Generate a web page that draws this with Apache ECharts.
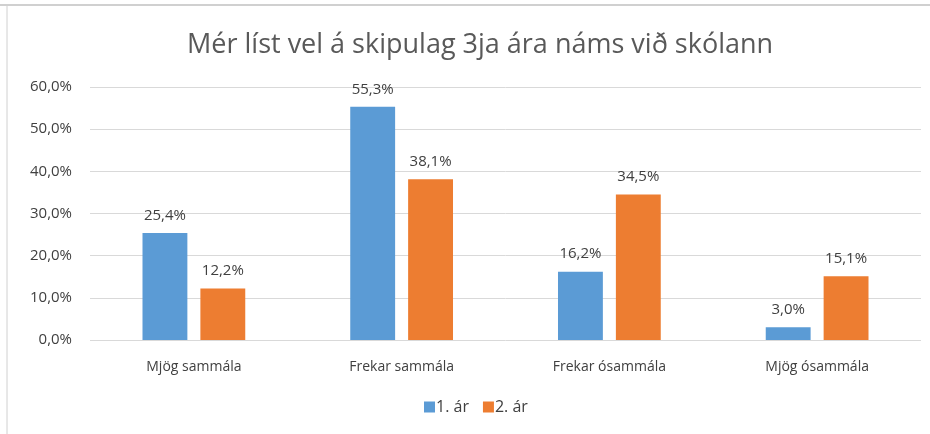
<!DOCTYPE html>
<html>
<head>
<meta charset="utf-8">
<script src="https://cdn.jsdelivr.net/npm/echarts@6/dist/echarts.min.js"></script>
<style>
  html, body { margin: 0; padding: 0; background: #fff; }
  #main { width: 930px; height: 434px; }
</style>
</head>
<body>
<div id="main"></div>
<script>
var categories = ['Mjög sammála', 'Frekar sammála', 'Frekar ósammála', 'Mjög ósammála']
var ar1 = [25.4, 55.3, 16.2, 3.0]
var ar2 = [12.2, 38.1, 34.5, 15.1]
var seriesNames = ['1. ár', '2. ár']
var yTicks = [0, 10, 20, 30, 40, 50, 60]

var myChart = echarts.init(document.getElementById('main'))
var option

function pct(v) {
  return v.toFixed(1).replace('.', ',') + '%'
}

var font = 'Open Sans'

option = {
  backgroundColor: '#fff',
  animation: false,
  title: {
    text: 'Mér líst vel á skipulag 3ja ára náms við skólann',
    left: 182,
    top: 27,
    textStyle: {
      color: '#595959',
      fontWeight: 'normal',
      fontSize: 27,
      fontFamily: font
    }
  },
  legend: {
    bottom: 14,
    left: 419,
    itemWidth: 11,
    itemHeight: 11,
    itemGap: 14,
    icon: 'rect',
    textStyle: { color: '#404040', fontSize: 16, fontFamily: font, padding: [0, 0, 0, -4] },
    data: seriesNames
  },
  grid: {
    left: 90,
    right: 9,
    top: 87,
    bottom: 94
  },
  xAxis: {
    type: 'category',
    data: categories,
    axisLine: { show: false },
    axisTick: { show: false },
    axisLabel: { color: '#404040', fontSize: 14, fontFamily: font, margin: 20 }
  },
  yAxis: {
    type: 'value',
    min: yTicks[0],
    max: yTicks[yTicks.length - 1],
    interval: 10,
    axisLine: { show: false },
    axisTick: { show: false },
    splitLine: { lineStyle: { color: '#D9D9D9', width: 1 } },
    axisLabel: {
      color: '#404040',
      fontSize: 15,
      fontFamily: font,
      margin: 18,
      formatter: function(v) { return pct(v) }
    }
  },
  series: [
    {
      name: seriesNames[0],
      type: 'bar',
      data: ar1,
      barWidth: '21.6%',
      barGap: '29%',
      itemStyle: { color: '#5B9BD5' },
      label: {
        show: true,
        position: 'top',
        distance: 10,
        color: '#404040',
        fontSize: 15,
        fontFamily: font,
        formatter: function(p) { return pct(p.value) }
      }
    },
    {
      name: seriesNames[1],
      type: 'bar',
      data: ar2,
      barWidth: '21.6%',
      itemStyle: { color: '#ED7D31' },
      label: {
        show: true,
        position: 'top',
        distance: 10,
        color: '#404040',
        fontSize: 15,
        fontFamily: font,
        formatter: function(p) { return pct(p.value) }
      }
    }
  ],
  graphic: [
    // rammi utan um myndina
    { type: 'line', shape: { x1: 0, y1: 5, x2: 930, y2: 5 }, style: { stroke: '#D0D0D0', lineWidth: 2 } },
    { type: 'line', shape: { x1: 7, y1: 5, x2: 7, y2: 434 }, style: { stroke: '#D0D0D0', lineWidth: 1 } }
  ]
}

option && myChart.setOption(option)
</script>
</body>
</html>
